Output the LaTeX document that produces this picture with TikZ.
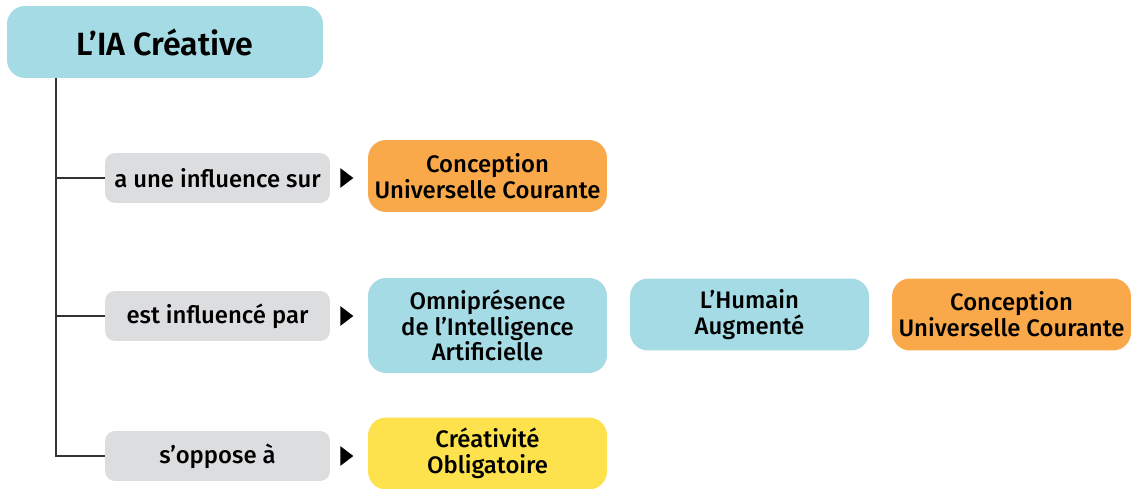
\documentclass[tikz,border=0pt]{standalone}
\usepackage{fontspec}
\setmainfont{Fira Sans}[UprightFont={* Medium},BoldFont={* SemiBold}]
\usepackage{tikz}
\usetikzlibrary{shapes,arrows,positioning,calc}
\definecolor{iacyan}{HTML}{A5DBE4}
\definecolor{iagray}{HTML}{DCDDDF}
\definecolor{iaorange}{HTML}{F9A84A}
\definecolor{iayellow}{HTML}{FDE24E}
\definecolor{ialine}{HTML}{333333}

\begin{document}
\begin{tikzpicture}[x=0.02cm,y=-0.02cm,
	titlebox/.style={fill=iacyan,rounded corners=0.36cm,minimum width=6.32cm,minimum height=1.44cm,inner sep=0pt,font=\fontsize{18.3}{20}\selectfont\bfseries},
	relbox/.style={fill=iagray,rounded corners=0.2cm,minimum width=4.5cm,minimum height=1cm,inner sep=0pt,font=\fontsize{13.6}{14.7}\selectfont},
	conceptbox/.style={rounded corners=0.36cm,minimum width=4.78cm,minimum height=1.44cm,inner sep=0pt,align=center,font=\fontsize{13.6}{14.7}\selectfont},
	tipmark/.style={isosceles triangle,isosceles triangle apex angle=74,fill=black,inner sep=0pt,minimum height=0.26cm,minimum width=0.34cm},
	branch/.style={draw=ialine,line width=0.85pt}]

\useasboundingbox (0,0) rectangle (1131,489);

% root
\node[titlebox] (title) at (165,42) {L’IA Créative};
\coordinate (trunk) at (56,78);

% relations
\node[relbox] (relA) at (217.5,178) {a une influence sur};
\node[relbox] (relB) at (217.5,316) {est influencé par};
\node[relbox] (relC) at (217.5,456) {s’oppose à};

\draw[branch] (trunk) |- (relA.west);
\draw[branch] (trunk) |- (relB.west);
\draw[branch] (trunk) |- (relC.west);

% concepts
\node[conceptbox,fill=iaorange] (ucA) at (487.5,176) {Conception\\Universelle Courante};
\node[conceptbox,fill=iacyan,minimum height=1.9cm] (omni) at (487.5,325.5) {Omniprésence\\de l’Intelligence\\Artificielle};
\node[conceptbox,fill=iacyan] (huma) at (749.5,314.5) {L’Humain\\Augmenté};
\node[conceptbox,fill=iaorange] (ucB) at (1011.5,314.5) {Conception\\Universelle Courante};
\node[conceptbox,fill=iayellow] (crea) at (487.5,453.5) {Créativité\\Obligatoire};

% arrow marks
\path (relA.east) -- (relA.east -| ucA.west) node[pos=0.4,tipmark] (tipA) {};
\path (relB.east) -- (relB.east -| omni.west) node[pos=0.4,tipmark] (tipB) {};
\path (relC.east) -- (relC.east -| crea.west) node[pos=0.4,tipmark] (tipC) {};

\end{tikzpicture}
\end{document}
